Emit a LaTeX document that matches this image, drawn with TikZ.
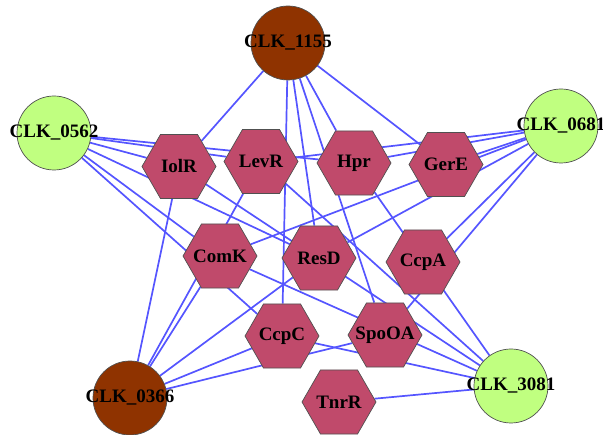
\documentclass[tikz,border=0pt]{standalone}
\usepackage{fontspec}
\setmainfont{Liberation Serif}
\usetikzlibrary{shapes.geometric,backgrounds}
\definecolor{tfred}{RGB}{192,74,107}
\definecolor{genebrown}{RGB}{143,51,0}
\definecolor{genegreen}{RGB}{192,255,128}
\definecolor{linkblue}{RGB}{85,85,255}
\definecolor{rimgrey}{RGB}{80,80,80}

\begin{document}
\begin{tikzpicture}[x=1pt,y=-1pt,
  every node/.style={font=\fontsize{19}{21}\selectfont\bfseries,inner sep=0pt},
  tf/.style={regular polygon,regular polygon sides=6,minimum size=74pt,draw=rimgrey,line width=0.7pt,fill=tfred,label=center:{#1}},
  gene/.style={circle,minimum size=74pt,draw=rimgrey,line width=0.7pt,label=center:{#1}},
  link/.style={draw=linkblue,line width=1.7pt}]
\useasboundingbox (0,0) rectangle (603,435);
% regulators
\node[gene=CLK\_1155,fill=genebrown] (c1155) at (288,43) {};
\node[gene=CLK\_0562,fill=genegreen] (c0562) at (54,133) {};
\node[gene=CLK\_0681,fill=genegreen] (c0681) at (561,126) {};
\node[gene=CLK\_0366,fill=genebrown] (c0366) at (130,398) {};
\node[gene=CLK\_3081,fill=genegreen] (c3081) at (511,386) {};
% transcription factors
\node[tf=IolR] (iolr) at (179,166.5) {};
\node[tf=LevR] (levr) at (261,161.5) {};
\node[tf=Hpr] (hpr) at (354,163) {};
\node[tf=GerE] (gere) at (446,164.5) {};
\node[tf=ComK] (comk) at (220,256) {};
\node[tf=ResD] (resd) at (319,258) {};
\node[tf=CcpA] (ccpa) at (423,262) {};
\node[tf=CcpC] (ccpc) at (282,336) {};
\node[tf=SpoOA] (spooa) at (385,335) {};
\node[tf=TnrR] (tnrr) at (339,402) {};
\begin{scope}[on background layer]
\draw[link] (c1155)--(iolr); \draw[link] (c1155)--(ccpc); \draw[link] (c1155)--(resd);
\draw[link] (c1155)--(spooa); \draw[link] (c1155)--(hpr); \draw[link] (c1155)--(gere);
\draw[link] (c0562)--(iolr); \draw[link] (c0562)--(levr); \draw[link] (c0562)--(hpr);
\draw[link] (c0562)--(comk); \draw[link] (c0562)--(ccpc); \draw[link] (c0562)--(resd);
\draw[link] (c0681)--(levr); \draw[link] (c0681)--(hpr); \draw[link] (c0681)--(gere);
\draw[link] (c0681)--(comk); \draw[link] (c0681)--(resd); \draw[link] (c0681)--(ccpa);
\draw[link] (c0681)--(spooa);
\draw[link] (c0366)--(iolr); \draw[link] (c0366)--(levr); \draw[link] (c0366)--(comk);
\draw[link] (c0366)--(resd); \draw[link] (c0366)--(ccpc); \draw[link] (c0366)--(spooa);
\draw[link] (c3081)--(iolr); \draw[link] (c3081)--(levr); \draw[link] (c3081)--(hpr);
\draw[link] (c3081)--(comk); \draw[link] (c3081)--(ccpc); \draw[link] (c3081)--(tnrr);
\end{scope}
\end{tikzpicture}
\end{document}
